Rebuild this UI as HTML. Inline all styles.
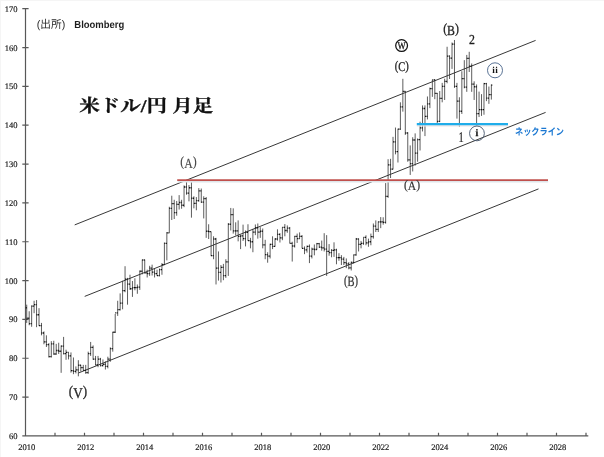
<!DOCTYPE html>
<html><head><meta charset="utf-8"><title>USDJPY monthly</title>
<style>html,body{margin:0;padding:0;background:#fff}body{width:604px;height:457px;overflow:hidden}svg{display:block;will-change:transform}text{font-family:"Liberation Serif",serif;text-rendering:geometricPrecision}.s{font-family:"Liberation Sans",sans-serif}</style></head><body>
<svg width="604" height="457" viewBox="0 0 604 457">
<rect width="604" height="457" fill="#fff"/>
<path d="M0 0.5H604M0.5 0V457" stroke="#f5f5f5" stroke-width="1" fill="none"/>
<path d="M25.5 8.3V436.34 M25.0 435.94H588.3 M22.3 435.94H28.6 M22.3 397.1H28.6 M22.3 358.26H28.6 M22.3 319.42H28.6 M22.3 280.58H28.6 M22.3 241.74H28.6 M22.3 202.9H28.6 M22.3 164.06H28.6 M22.3 125.22H28.6 M22.3 86.38H28.6 M22.3 47.54H28.6 M22.3 8.7H28.6 M25.5 435.94v-3.2 M55 435.94v-3.2 M84.5 435.94v-3.2 M114 435.94v-3.2 M143.5 435.94v-3.2 M173 435.94v-3.2 M202.5 435.94v-3.2 M232 435.94v-3.2 M261.5 435.94v-3.2 M291 435.94v-3.2 M320.5 435.94v-3.2 M350 435.94v-3.2 M379.5 435.94v-3.2 M409 435.94v-3.2 M438.5 435.94v-3.2 M468 435.94v-3.2 M497.5 435.94v-3.2 M527 435.94v-3.2 M556.5 435.94v-3.2 M586 435.94v-3.2" stroke="#585858" stroke-width="1.2" fill="none"/>
<g font-size="8.5" fill="#222" stroke="#222" stroke-width="0.18">
<text x="17.4" y="438.94" text-anchor="end">60</text>
<text x="17.4" y="400.1" text-anchor="end">70</text>
<text x="17.4" y="361.26" text-anchor="end">80</text>
<text x="17.4" y="322.42" text-anchor="end">90</text>
<text x="17.4" y="283.58" text-anchor="end">100</text>
<text x="17.4" y="244.74" text-anchor="end">110</text>
<text x="17.4" y="205.9" text-anchor="end">120</text>
<text x="17.4" y="167.06" text-anchor="end">130</text>
<text x="17.4" y="128.22" text-anchor="end">140</text>
<text x="17.4" y="89.38" text-anchor="end">150</text>
<text x="17.4" y="50.54" text-anchor="end">160</text>
<text x="17.4" y="11.7" text-anchor="end">170</text>
<text x="26.7" y="449.55" text-anchor="middle">2010</text>
<text x="85.7" y="449.55" text-anchor="middle">2012</text>
<text x="144.7" y="449.55" text-anchor="middle">2014</text>
<text x="203.7" y="449.55" text-anchor="middle">2016</text>
<text x="262.7" y="449.55" text-anchor="middle">2018</text>
<text x="321.7" y="449.55" text-anchor="middle">2020</text>
<text x="380.7" y="449.55" text-anchor="middle">2022</text>
<text x="439.7" y="449.55" text-anchor="middle">2024</text>
<text x="498.7" y="449.55" text-anchor="middle">2026</text>
<text x="557.7" y="449.55" text-anchor="middle">2028</text>
</g>
<path d="M74.7 224.9L535.6 40.4M84.7 296.4L545.6 112.4M78.4 373L538.5 188.9" stroke="#383838" stroke-width="1" fill="none"/>
<path d="M26.73 304.66V322.92M29.19 311.26V325.25M31.65 305.44V326.8M34.1 300.78V313.21M36.56 300.08V327.19M39.02 308.16V326.02M41.48 322.92V335.34M43.94 331.46V344.28M46.4 335.34V347M48.85 343.11V357.48M51.31 341.17V357.48M53.77 340.78V354.76M56.23 343.89V354.76M58.69 342.72V353.99M61.15 345.44V372.82M63.6 336.9V354.38M66.06 349.72V359.81M68.52 352.43V359.43M70.98 352.43V372.63M73.44 357.48V374.18M75.9 366.42V373.41M78.35 360.2V376.32M80.81 364.86V371.47M83.27 364.86V370.3M85.73 364.86V373.8M88.19 351.66V373.8M90.65 341.95V355.93M93.1 345.44V359.81M95.56 355.93V365.25M98.02 355.93V367.19M100.48 357.87V366.42M102.94 359.43V366.42M105.4 361.37V369.52M107.85 356.71V368.36M110.31 347.38V361.76M112.77 331.85V351.66M115.23 313.98V333.01M117.69 300.78V315.92M120.15 293.4V310.49M122.6 280.77V309.32M125.06 266.21V292.23M127.52 277.86V304.66M129.98 274.75V289.9M132.44 280.97V296.89M134.9 278.25V290.29M137.35 284.46V293.79M139.81 270.48V289.9M142.27 259.61V274.37M144.73 259.61V273.59M147.19 269.7V277.47M149.65 265.82V275.92M152.1 264.66V275.53M154.56 268.93V277.47M157.02 269.7V275.92M159.48 268.54V276.31M161.94 263.1V274.75M164.4 242.52V265.04M166.85 232.03V260.38M169.31 206.78V232.81M171.77 195.71V219.99M174.23 199.79V219.02M176.69 200.96V215.72M179.15 195.13V209.5M181.6 199.79V208.73M184.06 185.42V207.17M186.52 180.18V194.74M188.98 185.03V201.35M191.44 182.31V217.66M193.9 196.3V208.34M196.35 197.07V210.28M198.81 188.14V201.73M201.27 188.53V202.9M203.73 196.3V218.44M206.19 197.07V237.86M208.65 224.26V239.02M211.1 231.64V256.11M213.56 236.3V259.22M216.02 237.86V284.46M218.48 251.45V280.58M220.94 265.04V282.52M223.4 263.88V280.19M225.85 259.22V277.86M228.31 223.1V275.92M230.77 207.95V230.48M233.23 208.34V233.58M235.69 222.32V235.53M238.15 220.38V241.35M240.6 234.75V249.12M243.06 224.65V240.96M245.52 230.48V246.4M247.98 224.26V240.96M250.44 237.86V248.34M252.9 228.92V252.23M255.35 224.46V235.14M257.81 223.49V238.63M260.27 227.17V237.86M262.73 228.53V248.34M265.19 239.8V259.22M267.65 252.23V262.71M270.1 243.68V258.44M272.56 236.3V249.12M275.02 238.24V246.79M277.48 229.31V240.57M279.94 233.2V242.52M282.4 227.37V240.19M284.85 224.07V236.3M287.31 225.43V232.81M289.77 226.98V243.29M292.23 241.74V261.55M294.69 235.91V247.57M297.15 233.58V242.91M299.6 232.42V238.63M302.06 235.14V248.34M304.52 246.4V254.17M306.98 245.62V252.62M309.44 244.46V263.1M311.9 247.57V258.44M314.35 244.46V255.33M316.81 242.91V249.9M319.27 242.91V247.95M321.73 240.57V250.67M324.19 233.2V251.45M326.65 235.14V275.92M329.1 244.07V255.72M331.56 249.12V257.28M334.02 242.32V256.89M336.48 248.73V264.27M338.94 253.2V260.77M341.4 255.14V265.04M343.85 256.89V265.04M346.31 258.44V268.15M348.77 262.13V269.32M351.23 261.55V270.48M353.69 254.56V263.49M356.15 237.97V255.72M358.6 238.44V251.45M361.06 240.96V248.34M363.52 237.47V244.85M365.98 235.33V245.24M368.44 238.63V246.79M370.9 233.58V245.24M373.35 223.49V238.63M375.81 220.38V232.03M378.27 221.54V232.03M380.73 217.08V228.15M383.19 217.27V224.65M385.65 183.09V223.68M388.1 159.2V197.85M390.56 158.82V178.04M393.02 136.87V169.5M395.48 127.55V154.35M397.94 128.72V162.51M400.4 102.3V129.88M402.85 78.81V111.63M405.31 91.04V134.93M407.77 132.21V161.73M410.23 145.42V174.94M412.69 137.26V171.44M415.15 133.38V165.61M417.6 138.43V161.73M420.06 121.72V150.47M422.52 105.41V131.43M424.98 105.41V136.1M427.44 96.48V119.39M429.9 87.55V108.13M432.35 79.78V96.87M434.81 79V99.2M437.27 92.98V124.25M439.73 91.04V122.11M442.19 82.88V102.3M444.65 78.73V99.97M447.1 46.76V83.27M449.56 55.35V79M452.02 42.49V68.9M454.48 39.97V87.93M456.94 82.88V118.62M459.4 97.26V126.77M461.85 71.23V113.96M464.31 60.16V88.32M466.77 54.92V91.82M469.23 51.81V72.01M471.69 63.46V91.82M474.15 81.33V99.97M476.6 84.44V125.61M479.06 91.62V117.06M481.52 94.15V115.9M483.98 82.88V114.73M486.44 82.88V101.14M488.9 86.54V103.86M491.35 84.44V99.59" stroke="#333" stroke-width="0.8" fill="none"/>
<path d="M25.78 307.77h0.95M26.73 318.25h0.95M28.24 318.25h0.95M29.19 323.69h0.95M30.7 323.69h0.95M31.65 306.21h0.95M33.15 306.21h0.95M34.1 304.66h0.95M35.61 304.66h0.95M36.56 314.76h0.95M38.07 314.76h0.95M39.02 325.63h0.95M40.53 325.63h0.95M41.48 333.01h0.95M42.99 333.01h0.95M43.94 341.95h0.95M45.45 341.95h0.95M46.4 344.67h0.95M47.9 344.67h0.95M48.85 356.71h0.95M50.36 356.71h0.95M51.31 343.89h0.95M52.82 343.89h0.95M53.77 353.99h0.95M55.28 353.99h0.95M56.23 350.49h0.95M57.74 350.49h0.95M58.69 351.27h0.95M60.2 351.27h0.95M61.15 346.22h0.95M62.65 346.22h0.95M63.6 353.6h0.95M65.11 353.6h0.95M66.06 352.43h0.95M67.57 352.43h0.95M68.52 355.93h0.95M70.03 355.93h0.95M70.98 370.69h0.95M72.49 370.69h0.95M73.44 371.47h0.95M74.95 371.47h0.95M75.9 369.91h0.95M77.4 369.91h0.95M78.35 365.25h0.95M79.86 365.25h0.95M80.81 367.58h0.95M82.32 367.58h0.95M83.27 370.3h0.95M84.78 370.3h0.95M85.73 372.63h0.95M87.24 372.63h0.95M88.19 353.6h0.95M89.7 353.6h0.95M90.65 347.38h0.95M92.15 347.38h0.95M93.1 359.04h0.95M94.61 359.04h0.95M95.56 364.86h0.95M97.07 364.86h0.95M98.02 359.04h0.95M99.53 359.04h0.95M100.48 365.64h0.95M101.99 365.64h0.95M102.94 364.47h0.95M104.45 364.47h0.95M105.4 366.42h0.95M106.9 366.42h0.95M107.85 359.04h0.95M109.36 359.04h0.95M110.31 348.55h0.95M111.82 348.55h0.95M112.77 332.24h0.95M114.28 332.24h0.95M115.23 312.82h0.95M116.74 312.82h0.95M117.69 309.71h0.95M119.2 309.71h0.95M120.15 303.11h0.95M121.65 303.11h0.95M122.6 290.68h0.95M124.11 290.68h0.95M125.06 279.03h0.95M126.57 279.03h0.95M127.52 284.08h0.95M129.03 284.08h0.95M129.98 288.74h0.95M131.49 288.74h0.95M132.44 287.57h0.95M133.95 287.57h0.95M134.9 287.57h0.95M136.4 287.57h0.95M137.35 287.18h0.95M138.86 287.18h0.95M139.81 271.26h0.95M141.32 271.26h0.95M142.27 259.99h0.95M143.78 259.99h0.95M144.73 272.81h0.95M146.24 272.81h0.95M147.19 273.59h0.95M148.7 273.59h0.95M149.65 268.15h0.95M151.15 268.15h0.95M152.1 272.04h0.95M153.61 272.04h0.95M154.56 273.59h0.95M156.07 273.59h0.95M157.02 275.53h0.95M158.53 275.53h0.95M159.48 269.7h0.95M160.99 269.7h0.95M161.94 264.66h0.95M163.45 264.66h0.95M164.4 243.29h0.95M165.9 243.29h0.95M166.85 232.81h0.95M168.36 232.81h0.95M169.31 208.34h0.95M170.82 208.34h0.95M171.77 203.68h0.95M173.28 203.68h0.95M174.23 212.61h0.95M175.74 212.61h0.95M176.69 204.45h0.95M178.2 204.45h0.95M179.15 202.51h0.95M180.65 202.51h0.95M181.6 205.23h0.95M183.11 205.23h0.95M184.06 186.98h0.95M185.57 186.98h0.95M186.52 193.19h0.95M188.03 193.19h0.95M188.98 187.75h0.95M190.49 187.75h0.95M191.44 198.24h0.95M192.95 198.24h0.95M193.9 203.29h0.95M195.4 203.29h0.95M196.35 200.57h0.95M197.86 200.57h0.95M198.81 190.86h0.95M200.32 190.86h0.95M201.27 202.12h0.95M202.78 202.12h0.95M203.73 198.63h0.95M205.24 198.63h0.95M206.19 231.25h0.95M207.7 231.25h0.95M208.65 231.64h0.95M210.15 231.64h0.95M211.1 255.72h0.95M212.61 255.72h0.95M213.56 239.02h0.95M215.07 239.02h0.95M216.02 268.15h0.95M217.53 268.15h0.95M218.48 272.42h0.95M219.99 272.42h0.95M220.94 267.37h0.95M222.45 267.37h0.95M223.4 275.53h0.95M224.9 275.53h0.95M225.85 261.94h0.95M227.36 261.94h0.95M228.31 224.26h0.95M229.82 224.26h0.95M230.77 214.55h0.95M232.28 214.55h0.95M233.23 230.86h0.95M234.74 230.86h0.95M235.69 230.86h0.95M237.2 230.86h0.95M238.15 236.3h0.95M239.65 236.3h0.95M240.6 235.91h0.95M242.11 235.91h0.95M243.06 238.63h0.95M244.57 238.63h0.95M245.52 232.42h0.95M247.03 232.42h0.95M247.98 240.57h0.95M249.49 240.57h0.95M250.44 241.74h0.95M251.95 241.74h0.95M252.9 232.03h0.95M254.4 232.03h0.95M255.35 227.76h0.95M256.86 227.76h0.95M257.81 232.03h0.95M259.32 232.03h0.95M260.27 231.25h0.95M261.78 231.25h0.95M262.73 244.85h0.95M264.24 244.85h0.95M265.19 254.56h0.95M266.7 254.56h0.95M267.65 256.11h0.95M269.15 256.11h0.95M270.1 244.46h0.95M271.61 244.46h0.95M272.56 246.4h0.95M274.07 246.4h0.95M275.02 239.02h0.95M276.53 239.02h0.95M277.48 234.36h0.95M278.99 234.36h0.95M279.94 237.86h0.95M281.45 237.86h0.95M282.4 227.37h0.95M283.9 227.37h0.95M284.85 230.48h0.95M286.36 230.48h0.95M287.31 228.15h0.95M288.82 228.15h0.95M289.77 243.29h0.95M291.28 243.29h0.95M292.23 246.01h0.95M293.74 246.01h0.95M294.69 236.3h0.95M296.2 236.3h0.95M297.15 238.63h0.95M298.65 238.63h0.95M299.6 236.3h0.95M301.11 236.3h0.95M302.06 248.34h0.95M303.57 248.34h0.95M304.52 249.9h0.95M306.03 249.9h0.95M306.98 246.4h0.95M308.49 246.4h0.95M309.44 256.11h0.95M310.95 256.11h0.95M311.9 249.12h0.95M313.4 249.12h0.95M314.35 249.51h0.95M315.86 249.51h0.95M316.81 243.68h0.95M318.32 243.68h0.95M319.27 247.18h0.95M320.78 247.18h0.95M321.73 247.95h0.95M323.24 247.95h0.95M324.19 249.12h0.95M325.7 249.12h0.95M326.65 251.45h0.95M328.15 251.45h0.95M329.1 252.62h0.95M330.61 252.62h0.95M331.56 250.28h0.95M333.07 250.28h0.95M334.02 249.9h0.95M335.53 249.9h0.95M336.48 257.66h0.95M337.99 257.66h0.95M338.94 257.66h0.95M340.45 257.66h0.95M341.4 259.22h0.95M342.9 259.22h0.95M343.85 262.71h0.95M345.36 262.71h0.95M346.31 263.88h0.95M347.82 263.88h0.95M348.77 267.96h0.95M350.28 267.96h0.95M351.23 262.33h0.95M352.74 262.33h0.95M353.69 254.95h0.95M355.2 254.95h0.95M356.15 239.02h0.95M357.65 239.02h0.95M358.6 244.46h0.95M360.11 244.46h0.95M361.06 243.29h0.95M362.57 243.29h0.95M363.52 237.47h0.95M365.03 237.47h0.95M365.98 242.91h0.95M367.49 242.91h0.95M368.44 241.74h0.95M369.95 241.74h0.95M370.9 236.69h0.95M372.4 236.69h0.95M373.35 226.2h0.95M374.86 226.2h0.95M375.81 229.31h0.95M377.32 229.31h0.95M378.27 221.93h0.95M379.78 221.93h0.95M380.73 221.93h0.95M382.24 221.93h0.95M383.19 222.32h0.95M384.7 222.32h0.95M385.65 196.3h0.95M387.15 196.3h0.95M388.1 164.84h0.95M389.61 164.84h0.95M390.56 169.11h0.95M392.07 169.11h0.95M393.02 141.92h0.95M394.53 141.92h0.95M395.48 151.63h0.95M396.99 151.63h0.95M397.94 129.1h0.95M399.45 129.1h0.95M400.4 106.97h0.95M401.9 106.97h0.95M402.85 91.43h0.95M404.36 91.43h0.95M405.31 132.99h0.95M406.82 132.99h0.95M407.77 159.79h0.95M409.28 159.79h0.95M410.23 163.67h0.95M411.74 163.67h0.95M412.69 139.98h0.95M414.2 139.98h0.95M415.15 153.18h0.95M416.65 153.18h0.95M417.6 139.59h0.95M419.11 139.59h0.95M420.06 127.94h0.95M421.57 127.94h0.95M422.52 108.52h0.95M424.03 108.52h0.95M424.98 116.29h0.95M426.49 116.29h0.95M427.44 103.86h0.95M428.95 103.86h0.95M429.9 88.71h0.95M431.4 88.71h0.95M432.35 79.78h0.95M433.86 79.78h0.95M434.81 93.37h0.95M436.32 93.37h0.95M437.27 121.34h0.95M438.78 121.34h0.95M439.73 98.42h0.95M441.24 98.42h0.95M442.19 86.38h0.95M443.7 86.38h0.95M444.65 81.33h0.95M446.15 81.33h0.95M447.1 56.08h0.95M448.61 56.08h0.95M449.56 58.03h0.95M451.07 58.03h0.95M452.02 44.04h0.95M453.53 44.04h0.95M454.48 86.38h0.95M455.99 86.38h0.95M456.94 101.14h0.95M458.45 101.14h0.95M459.4 111.24h0.95M460.9 111.24h0.95M461.85 78.61h0.95M463.36 78.61h0.95M464.31 87.16h0.95M465.82 87.16h0.95M466.77 58.42h0.95M468.28 58.42h0.95M469.23 66.18h0.95M470.74 66.18h0.95M471.69 84.05h0.95M473.2 84.05h0.95M474.15 86.77h0.95M475.65 86.77h0.95M476.6 113.57h0.95M478.11 113.57h0.95M479.06 109.68h0.95M480.57 109.68h0.95M481.52 109.68h0.95M483.03 109.68h0.95M483.98 83.66h0.95M485.49 83.66h0.95M486.44 98.03h0.95M487.95 98.03h0.95M488.9 94.54h0.95M490.4 94.54h0.95M491.35 85.21h0.95" stroke="#080808" stroke-width="1.3" fill="none"/>
<path d="M177.6 181.75H548.2" stroke="#dfe6ea" stroke-width="1.3" fill="none"/>
<path d="M416.8 125.9H508" stroke="#ece4e4" stroke-width="1.1" fill="none"/>
<path d="M177.2 180.05H548" stroke="#c0504d" stroke-width="1.8" fill="none"/>
<path d="M416.8 124.1H508" stroke="#20adea" stroke-width="2.2" fill="none"/>
<g font-size="14" fill="#484848" stroke="#484848" stroke-width="0.15">
<text transform="translate(180.23 166.29) scale(0.846 1)">(</text>
<text transform="translate(184.18 167.9) scale(0.846 1)">A</text>
<text transform="translate(192.72 166.29) scale(0.846 1)">)</text>
</g>
<g font-size="12.9" fill="#333" stroke="#333" stroke-width="0.2">
<text transform="translate(403.94 188.92) scale(0.900 1)">(</text>
<text transform="translate(407.81 190.4) scale(0.900 1)">A</text>
<text transform="translate(416.19 188.92) scale(0.900 1)">)</text>
</g>
<g font-size="13.9" fill="#1e1e1e" stroke="#1e1e1e" stroke-width="0.3">
<text transform="translate(443.13 32.9) scale(0.849 1)">(</text>
<text transform="translate(447.06 34.5) scale(0.849 1)">B</text>
<text transform="translate(454.94 32.9) scale(0.849 1)">)</text>
</g>
<g font-size="13.3" fill="#222" stroke="#222" stroke-width="0.3">
<text transform="translate(394.69 69.87) scale(0.796 1)">(</text>
<text transform="translate(398.22 71.4) scale(0.796 1)">C</text>
<text transform="translate(405.28 69.87) scale(0.796 1)">)</text>
</g>
<g font-size="14" fill="#333" stroke="#333" stroke-width="0.25">
<text transform="translate(343.9 284.59) scale(0.751 1)">(</text>
<text transform="translate(347.4 286.2) scale(0.751 1)">B</text>
<text transform="translate(354.4 284.59) scale(0.751 1)">)</text>
</g>
<g font-size="14.8" fill="#2a2a2a" stroke="#2a2a2a" stroke-width="0.3">
<text transform="translate(68.87 396.2) scale(0.889 1)">(</text>
<text transform="translate(73.25 397.9) scale(0.889 1)">V</text>
<text transform="translate(82.75 396.2) scale(0.889 1)">)</text>
</g>
<text x="468.9" y="44" font-size="13.7" textLength="5.9" lengthAdjust="spacingAndGlyphs" fill="#1e1e1e" stroke="#1e1e1e" stroke-width="0.3">2</text>
<text x="458.6" y="142" font-size="14.6" textLength="5.2" lengthAdjust="spacingAndGlyphs" fill="#1a1a1a" stroke="#1a1a1a" stroke-width="0.2">1</text>
<circle cx="401.6" cy="45.6" r="5.9" fill="none" stroke="#111" stroke-width="1.25"/>
<text x="397.5" y="49.1" font-size="10.5" textLength="8.2" lengthAdjust="spacingAndGlyphs" fill="#111" stroke="#111" stroke-width="0.25">W</text>
<circle cx="495" cy="70.3" r="7.5" fill="none" stroke="#506a8e" stroke-width="0.95"/>
<text x="495.25" y="73" font-size="9.2" font-weight="bold" text-anchor="middle" letter-spacing="0.5" fill="#111">ii</text>
<circle cx="476.95" cy="133.4" r="7.4" fill="none" stroke="#44546a" stroke-width="0.9"/>
<text x="476.95" y="136.2" font-size="10" font-weight="bold" text-anchor="middle" fill="#111" stroke="#111" stroke-width="0.25">i</text>
<text x="79.3" y="112" font-size="18" font-weight="bold" textLength="134" lengthAdjust="spacingAndGlyphs" fill="#111" stroke="#111" stroke-width="0.3" style="font-family:'Liberation Serif','Noto Serif CJK SC',serif">米ドル/円 月足</text>
<text x="36.8" y="28.4" font-size="11" textLength="28.4" lengthAdjust="spacingAndGlyphs" fill="#2a2a2a" style="font-family:'Liberation Sans','Noto Sans CJK JP',sans-serif">(出所)</text>
<text class="s" x="74.3" y="27.9" font-size="10.3" font-weight="bold" fill="#1e1e1e" textLength="50" lengthAdjust="spacingAndGlyphs">Bloomberg</text>
<text x="515" y="135.4" font-size="9.5" font-weight="bold" textLength="49" lengthAdjust="spacingAndGlyphs" fill="#1b78d2" style="font-family:'Liberation Sans','Noto Sans CJK JP',sans-serif">ネックライン</text>
</svg></body></html>
